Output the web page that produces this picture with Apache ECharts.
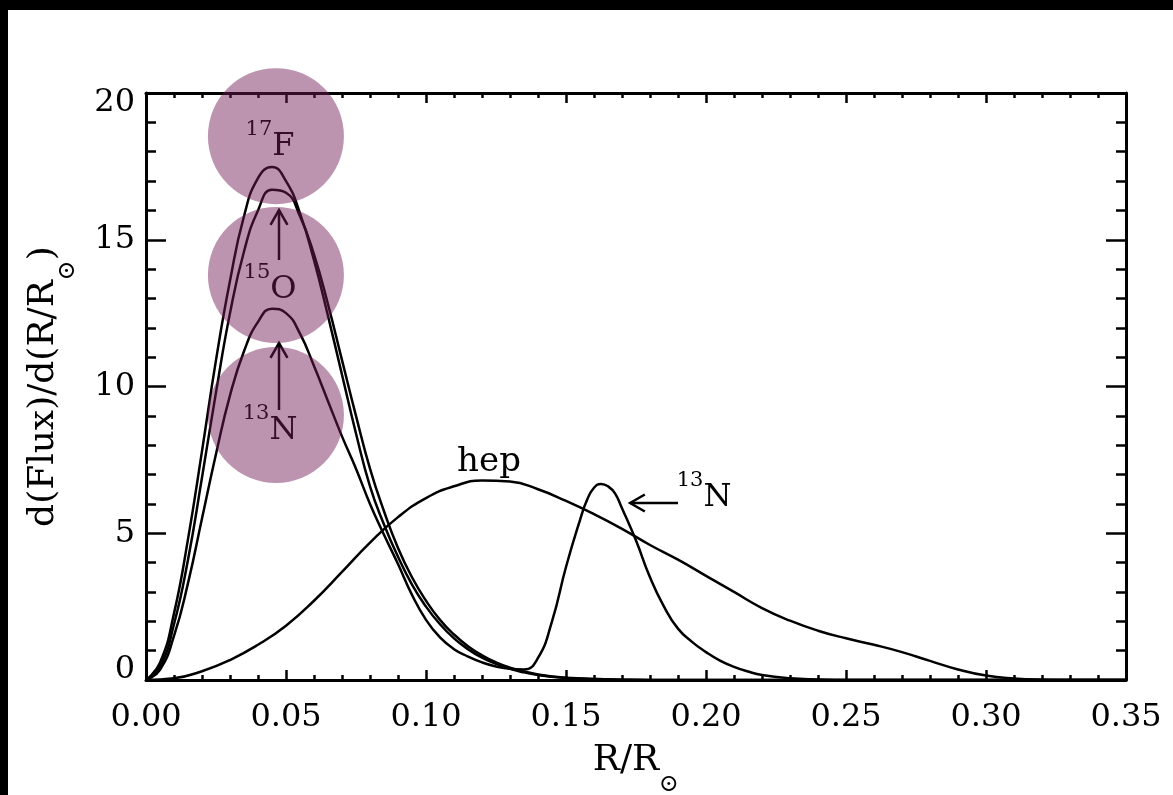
<!DOCTYPE html>
<html>
<head>
<meta charset="UTF-8">
<title>flux</title>
<script src="https://cdn.jsdelivr.net/npm/echarts@6.0.0/dist/echarts.min.js"></script>
<style>
    *{margin:0;padding:0}
    html,body{width:100%;height:100%;background:#000;overflow:hidden}
    #main{position:absolute;left:8px;top:10px;width:1165px;height:785px;background:#fff}
</style>
</head>
<body>
<div id="main"></div>
<script type="text/javascript">
    // R/Rsun samples for the three CNO peaks
    var xMain = [0, 0.005, 0.01, 0.015, 0.02, 0.025, 0.03, 0.035, 0.04, 0.045,
        0.05, 0.055, 0.06, 0.065, 0.07, 0.075, 0.08, 0.085, 0.09, 0.095,
        0.10, 0.105, 0.11, 0.115, 0.12, 0.125, 0.13, 0.135, 0.14, 0.145,
        0.15, 0.16, 0.17, 0.18, 0.20, 0.25, 0.30, 0.35];
    var flux17F = [0, 0.59, 2.27, 4.8, 7.8, 10.9, 13.6, 15.8, 17.1, 17.48,
        17.0, 15.9, 14.3, 12.4, 10.4, 8.4, 6.6, 5.3, 4.2, 3.25,
        2.5, 1.9, 1.42, 1.05, 0.76, 0.55, 0.38, 0.26, 0.17, 0.11,
        0.07, 0.03, 0.01, 0, 0, 0, 0, 0];
    var flux15O = [0, 0.45, 1.9, 4.1, 6.9, 9.8, 12.5, 14.6, 16.0, 16.7,
        16.6, 15.8, 14.5, 12.8, 10.9, 9.0, 7.2, 5.75, 4.5, 3.5,
        2.7, 2.05, 1.55, 1.15, 0.84, 0.6, 0.42, 0.29, 0.19, 0.12,
        0.08, 0.03, 0.01, 0, 0, 0, 0, 0];

    // 13N has a second bump further out
    var x13N = [0, 0.005, 0.01, 0.015, 0.02, 0.025, 0.03, 0.035, 0.04, 0.045,
        0.05, 0.055, 0.06, 0.065, 0.07, 0.075, 0.08, 0.085, 0.09, 0.095,
        0.10, 0.105, 0.11, 0.115, 0.12, 0.125, 0.13, 0.135, 0.14, 0.145,
        0.15, 0.155, 0.1575, 0.16, 0.1625, 0.165, 0.1675, 0.17, 0.175, 0.18,
        0.185, 0.19, 0.195, 0.20, 0.205, 0.21, 0.215, 0.22, 0.23, 0.24,
        0.25, 0.30, 0.35];
    var flux13N = [0, 0.35, 1.5, 3.3, 5.5, 7.7, 9.7, 11.2, 12.2, 12.65,
        12.5, 11.8, 10.7, 9.5, 8.3, 7.2, 6.0, 4.95, 3.95, 2.9,
        2.05, 1.45, 1.05, 0.8, 0.6, 0.46, 0.38, 0.36, 0.75, 2.0,
        3.85, 5.45, 6.13, 6.55, 6.68, 6.6, 6.36, 5.85, 4.75, 3.5,
        2.5, 1.75, 1.3, 0.95, 0.66, 0.45, 0.29, 0.17, 0.06, 0.02,
        0, 0, 0];

    var xHep = [0, 0.01, 0.02, 0.03, 0.04, 0.05, 0.06, 0.07, 0.08, 0.09,
        0.10, 0.11, 0.12, 0.13, 0.14, 0.15, 0.16, 0.17, 0.18, 0.19,
        0.20, 0.21, 0.22, 0.23, 0.24, 0.25, 0.26, 0.27, 0.28, 0.29,
        0.30, 0.31, 0.32, 0.33, 0.34, 0.35];
    var fluxHep = [0, 0.06, 0.3, 0.68, 1.2, 1.85, 2.7, 3.68, 4.68, 5.55,
        6.2, 6.6, 6.8, 6.76, 6.5, 6.1, 5.65, 5.15, 4.6, 4.1,
        3.55, 3.0, 2.45, 2.02, 1.68, 1.42, 1.2, 0.95, 0.65, 0.36,
        0.15, 0.05, 0.01, 0, 0, 0];

    // annotations (data coordinates)
    var labelText = ['{sup|17}{base|F}', '{sup|15}{base|O}', '{sup|13}{base|N}', '{plain|hep}', '{sup|13}{base|N}'];
    var labelPos = [[0.0443, 18.36], [0.0443, 13.49], [0.0443, 8.69], [0.1225, 7.43], [0.1993, 6.42]];
    var arrows = [[0.0475, 14.31, 0.0475, 16.01], [0.0475, 9.2, 0.0475, 11.48], [0.19, 6.03, 0.1729, 6.03]];
    var circles = [[0.0464, 18.53], [0.0464, 13.80], [0.0464, 9.03]];

    var FONT = 'DejaVu Serif';

    function pairs(xs, ys) {
        return xs.map(function (x, i) { return [x, ys[i]]; });
    }

    function curve(name, xs, ys) {
        return {
            name: name,
            type: 'line',
            data: pairs(xs, ys),
            showSymbol: false,
            smooth: 0.5,
            silent: true,
            z: 2,
            lineStyle: {color: '#000', width: 2.5}
        };
    }

    // axis titles: main text on top of the line box, sun symbol pushed to the bottom
    var titleRich = {
        b: {fontFamily: FONT, fontSize: 36, lineHeight: 44, verticalAlign: 'top', fill: '#000'},
        s: {fontFamily: FONT, fontSize: 24, lineHeight: 54, verticalAlign: 'bottom', fill: '#000'}
    };

    var myChart = echarts.init(document.getElementById('main'));

    var axisLine = {show: true, onZero: false, lineStyle: {color: '#000', width: 3}};
    var noSplit = {show: false};
    var G = {left: 138, top: 83, width: 980, height: 587};

    var option = {
        animation: false,
        backgroundColor: '#fff',
        grid: {left: G.left, top: G.top, width: G.width, height: G.height, outerBoundsMode: 'none'},
        graphic: [{
            type: 'text',
            x: G.left + G.width / 2,
            y: 733,
            silent: true,
            style: {text: '{b|R/R}{s|\u2299}', rich: titleRich, align: 'center', verticalAlign: 'top', fill: '#000'}
        }, {
            type: 'text',
            x: 18,
            y: G.top + G.height / 2,
            rotation: Math.PI / 2,
            silent: true,
            style: {text: '{b|d(Flux)/d(R/R}{s|\u2299}{b|)}', rich: titleRich, align: 'center', verticalAlign: 'top', fill: '#000'}
        }],
        xAxis: [{
            type: 'value', position: 'bottom', min: 0, max: 0.35, interval: 0.05,
            axisLine: axisLine,
            axisTick: {show: true, inside: true, length: 10, lineStyle: {color: '#000', width: 2.5}},
            minorTick: {show: true, splitNumber: 5, length: 5, lineStyle: {color: '#000', width: 2.5}},
            splitLine: noSplit, minorSplitLine: noSplit,
            axisLabel: {
                margin: 22, color: '#000', fontFamily: FONT, fontSize: 32, lineHeight: 32,
                formatter: function (v) { return v.toFixed(2); }
            }
        }, {
            type: 'value', position: 'top', min: 0, max: 0.35, interval: 0.05,
            axisLine: axisLine,
            axisTick: {show: true, inside: true, length: 10, lineStyle: {color: '#000', width: 2.5}},
            minorTick: {show: true, splitNumber: 5, length: 5, lineStyle: {color: '#000', width: 2.5}},
            splitLine: noSplit, minorSplitLine: noSplit,
            axisLabel: {show: false}
        }],
        yAxis: [{
            type: 'value', position: 'left', min: 0, max: 20, interval: 5,
            axisLine: axisLine,
            axisTick: {show: true, inside: true, length: 20, lineStyle: {color: '#000', width: 2.5}},
            minorTick: {show: true, splitNumber: 5, length: 10, lineStyle: {color: '#000', width: 2.5}},
            splitLine: noSplit, minorSplitLine: noSplit,
            axisLabel: {
                margin: 11, color: '#000', fontFamily: FONT, fontSize: 32,
                formatter: function (v) {
                    if (v === 0) return '{lo|0}';
                    if (v === 20) return '{hi|20}';
                    return String(v);
                },
                rich: {
                    lo: {fontFamily: FONT, fontSize: 32, color: '#000', padding: [0, 0, 20, 0]},
                    hi: {fontFamily: FONT, fontSize: 32, color: '#000', padding: [20, 0, 0, 0]}
                }
            }
        }, {
            type: 'value', position: 'right', min: 0, max: 20, interval: 5,
            axisLine: axisLine,
            axisTick: {show: true, inside: true, length: 20, lineStyle: {color: '#000', width: 2.5}},
            minorTick: {show: true, splitNumber: 5, length: 10, lineStyle: {color: '#000', width: 2.5}},
            splitLine: noSplit, minorSplitLine: noSplit,
            axisLabel: {show: false}
        }],
        series: [
            curve('17F', xMain, flux17F),
            curve('15O', xMain, flux15O),
            curve('13N', x13N, flux13N),
            curve('hep', xHep, fluxHep),
            {
                type: 'scatter',
                symbolSize: 0,
                silent: true,
                z: 3,
                itemStyle: {opacity: 1},
                data: labelPos.map(function (p, i) {
                    return {value: p, label: {formatter: labelText[i]}};
                }),
                label: {
                    show: true,
                    position: 'inside',
                    color: '#000',
                    opacity: 1,
                    rich: {
                        sup: {fontFamily: FONT, fontSize: 21, lineHeight: 20, verticalAlign: 'top', color: '#000'},
                        base: {fontFamily: FONT, fontSize: 32, lineHeight: 44, verticalAlign: 'bottom', color: '#000'},
                        plain: {fontFamily: FONT, fontSize: 34, lineHeight: 44, color: '#000'}
                    }
                }
            },
            {
                type: 'custom',
                silent: true,
                clip: false,
                z: 3,
                data: arrows,
                encode: {x: [0, 2], y: [1, 3]},
                renderItem: function (params, api) {
                    var a = api.coord([api.value(0), api.value(1)]);
                    var b = api.coord([api.value(2), api.value(3)]);
                    var ang = Math.atan2(b[1] - a[1], b[0] - a[0]);
                    var len = 17, spread = Math.PI / 6;
                    var w1 = [b[0] - len * Math.cos(ang - spread), b[1] - len * Math.sin(ang - spread)];
                    var w2 = [b[0] - len * Math.cos(ang + spread), b[1] - len * Math.sin(ang + spread)];
                    var st = {stroke: '#000', lineWidth: 2.5, fill: null};
                    return {
                        type: 'group',
                        children: [
                            {type: 'line', shape: {x1: a[0], y1: a[1], x2: b[0], y2: b[1]}, style: st},
                            {type: 'polyline', shape: {points: [w1, b, w2]}, style: st}
                        ]
                    };
                }
            },
            {
                type: 'scatter',
                symbol: 'circle',
                symbolSize: 136,
                silent: true,
                clip: false,
                z: 5,
                data: circles,
                itemStyle: {color: 'rgba(112, 28, 84, 0.47)', opacity: 1}
            }
        ]
    };

    myChart.setOption(option);
</script>
</body>
</html>
